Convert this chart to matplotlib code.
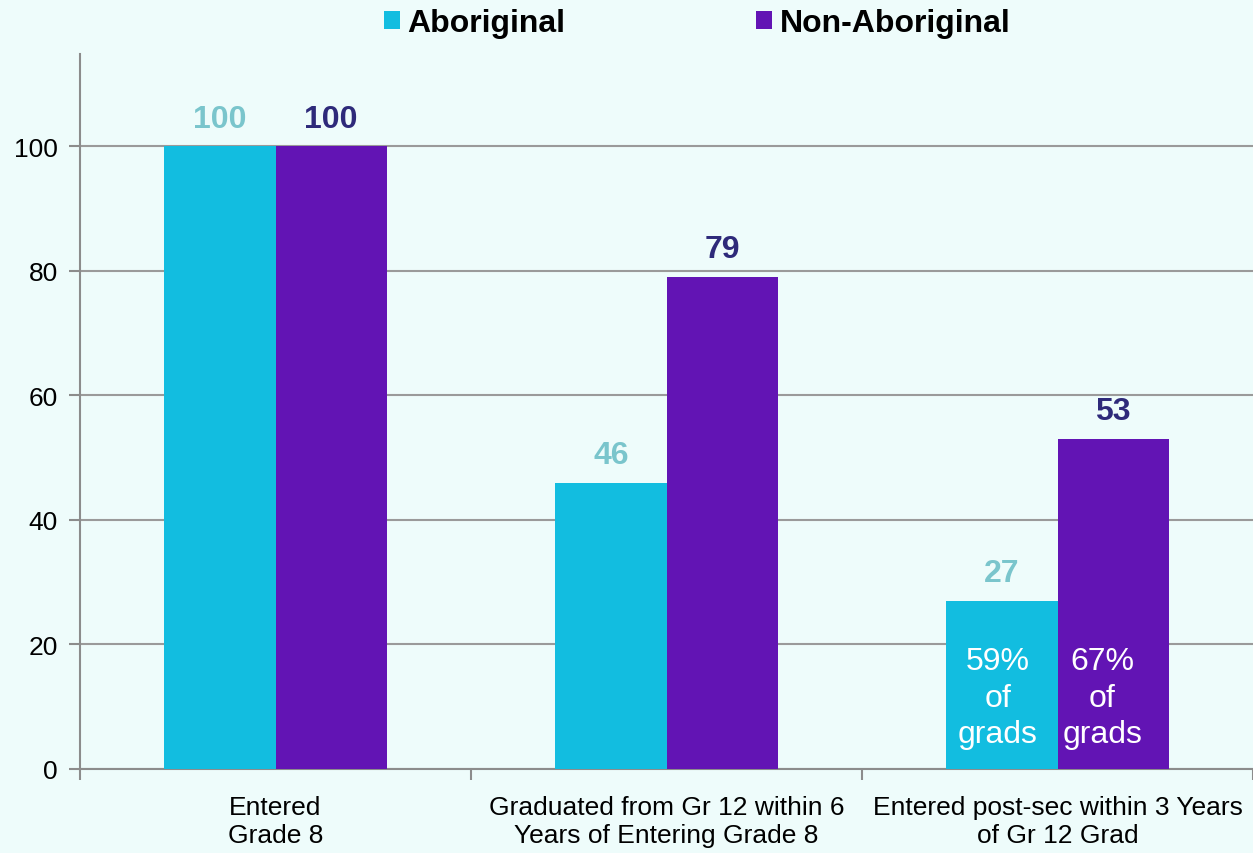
import numpy as np
import matplotlib.pyplot as plt
from matplotlib.ticker import FixedLocator

# data
categories = ["Entered\nGrade 8",
              "Graduated from Gr 12 within 6\nYears of Entering Grade 8",
              "Entered post-sec within 3 Years\nof Gr 12 Grad"]
aboriginal = [100, 46, 27]
non_aboriginal = [100, 79, 53]
inside_abo = ["", "", "59%\nof\ngrads"]
inside_non = ["", "", "67%\nof\ngrads"]

plt.rcParams['font.family'] = ['Liberation Sans', 'DejaVu Sans']

bg = "#eefcfb"
cyan = "#12bde0"
purple = "#6214b4"
gray = "#8c8c8c"

fig = plt.figure(figsize=(12.53, 8.54), dpi=100, facecolor=bg)
ax = fig.add_axes([80/1253, 1-770/854, 1-80/1253, (770-55)/854])
ax.set_facecolor(bg)

x = np.arange(len(categories))
w = 0.285
b1 = ax.bar(x - w/2, aboriginal, w, color=cyan, label="Aboriginal", zorder=3)
b2 = ax.bar(x + w/2, non_aboriginal, w, color=purple, label="Non-Aboriginal", zorder=3)

# value labels
for rect, v in zip(b1, aboriginal):
    ax.annotate(str(v), (rect.get_x() + rect.get_width()/2, v), xytext=(0, 9),
                textcoords="offset points", ha="center", va="bottom",
                fontsize=23, fontweight="bold", color="#7ac5cc")
for rect, v in zip(b2, non_aboriginal):
    ax.annotate(str(v), (rect.get_x() + rect.get_width()/2, v), xytext=(0, 9),
                textcoords="offset points", ha="center", va="bottom",
                fontsize=23, fontweight="bold", color="#2e2a7a")

# text inside the last bars
for rect, t in zip(b1, inside_abo):
    if t:
        ax.annotate(t, (rect.get_x() + rect.get_width()/2, 3.2), xytext=(-3, 0),
                    textcoords="offset points", ha="center", va="bottom",
                    fontsize=23, color="white", linespacing=1.28, zorder=4)
for rect, t in zip(b2, inside_non):
    if t:
        ax.annotate(t, (rect.get_x() + rect.get_width()/2, 3.2), xytext=(-8, 0),
                    textcoords="offset points", ha="center", va="bottom",
                    fontsize=23, color="white", linespacing=1.28, zorder=4)

ax.set_xlim(-0.5, 2.5)
ax.set_ylim(0, 114.8)
ax.set_yticks([0, 20, 40, 60, 80, 100])
ax.set_xticks(x)
ax.set_xticklabels(categories, fontsize=19)
ax.xaxis.set_minor_locator(FixedLocator([-0.5, 0.5, 1.5, 2.5]))
ax.tick_params(axis="x", which="major", length=0, pad=19)
ax.tick_params(axis="x", which="minor", length=8, color=gray, width=1.5, direction="out")
ax.tick_params(axis="y", length=8, color=gray, width=1.5, labelsize=19, pad=8)

ax.yaxis.grid(True, color="#9a9a9a", linewidth=1.5, zorder=0)
ax.set_axisbelow(True)
for s in ["top", "right"]:
    ax.spines[s].set_visible(False)
for s in ["left", "bottom"]:
    ax.spines[s].set_color(gray)
    ax.spines[s].set_linewidth(1.5)

fig.legend(handles=[b1, b2], loc="upper center", bbox_to_anchor=(697/1253, 1.004),
           ncol=2, frameon=False, prop={"size": 23, "weight": "bold"},
           handlelength=0.5, handleheight=0.5, handletextpad=0.22,
           columnspacing=6.0, borderaxespad=0.0)

fig.savefig("out.png", dpi=100, facecolor=bg)
